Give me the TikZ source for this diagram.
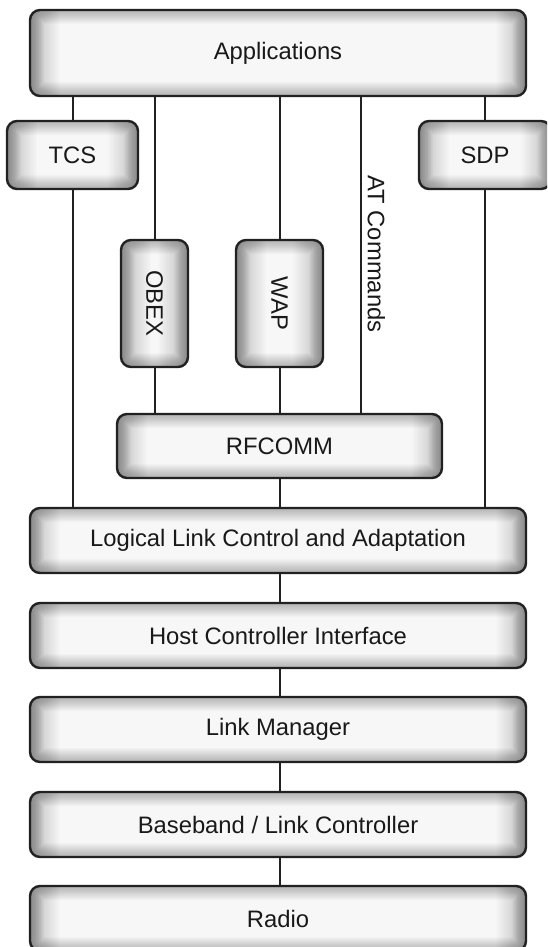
\documentclass[tikz,border=0pt]{standalone}
\usepackage{fontspec}
\setmainfont{Liberation Sans}
\usetikzlibrary{backgrounds}
\newcommand\boxfont{\fontsize{23.8pt}{28pt}\selectfont}
\tikzset{
  % soft grey inner glow along the edges of each box
  glow/.style={path picture={
    \foreach \w in {2,4,...,28}
      \draw[black, draw opacity=0.02, line width=\w pt]
        (path picture bounding box.south west) rectangle (path picture bounding box.north east);
    \foreach \w in {3,6,...,60}{
      \draw[black, draw opacity=0.012, line width=\w pt]
        (path picture bounding box.south west) -- (path picture bounding box.north west);
      \draw[black, draw opacity=0.012, line width=\w pt]
        (path picture bounding box.south east) -- (path picture bounding box.north east);}
  }},
  layer/.style={glow, draw=black!87, line width=2.4pt, fill=black!3, rounded corners=10pt,
    inner sep=0pt, font=\boxfont, text=black!90},
  link/.style={draw=black!87, line width=2pt}
}
\begin{document}
\begin{tikzpicture}[x=1pt, y=-1pt]
\clip (0,0) rectangle (547,947);

% protocol boxes
\node[layer, minimum width=496pt, minimum height=86pt] (app) at (278,53) {Applications};
\node[layer, minimum width=131pt, minimum height=68pt] (tcs) at (72.5,155) {TCS};
\node[layer, minimum width=132pt, minimum height=68pt] (sdp) at (485,155) {SDP};
\node[layer, minimum width=67pt, minimum height=127pt] (obex) at (154.5,303.5) {\rotatebox{-90}{OBEX}};
\node[layer, minimum width=87pt, minimum height=127pt] (wap) at (279.5,303.5) {\rotatebox{-90}{WAP}};
\node[layer, minimum width=325pt, minimum height=64pt] (rfcomm) at (279.5,446) {RFCOMM};
\node[layer, minimum width=496pt, minimum height=65pt] (l2cap) at (278,540.5) {Logical Link Control and Adaptation};
\node[layer, minimum width=496pt, minimum height=65pt] (hci) at (278,635.5) {Host Controller Interface};
\node[layer, minimum width=496pt, minimum height=65pt] (lm) at (278,729.5) {Link Manager};
\node[layer, minimum width=496pt, minimum height=65pt] (bb) at (278,824.5) {Baseband / Link Controller};
\node[layer, minimum width=496pt, minimum height=65pt] (radio) at (278,918.5) {Radio};

\node[rotate=-90, font=\boxfont, text=black!90, inner sep=0pt] (atc) at (376.5,254) {AT Commands};
\coordinate (atx) at (361,0);

% connecting lines
\begin{scope}[on background layer]
  \draw[link] (app.south -| tcs.north) -- (tcs.north);
  \draw[link] (tcs.south) -- (tcs.south |- l2cap.north);
  \draw[link] (app.south -| obex.north) -- (obex.north);
  \draw[link] (obex.south) -- (obex.south |- rfcomm.north);
  \draw[link] (app.south -| wap.north) -- (wap.north);
  \draw[link] (wap.south) -- (wap.south |- rfcomm.north);
  \draw[link] (app.south -| atx) -- (rfcomm.north -| atx);
  \draw[link] (rfcomm.south) -- (rfcomm.south |- l2cap.north);
  \draw[link] (app.south -| sdp.north) -- (sdp.north);
  \draw[link] (sdp.south) -- (sdp.south |- l2cap.north);
  \draw[link] (l2cap.south -| rfcomm.south) -- (hci.north -| rfcomm.south);
  \draw[link] (hci.south -| rfcomm.south) -- (lm.north -| rfcomm.south);
  \draw[link] (lm.south -| rfcomm.south) -- (bb.north -| rfcomm.south);
  \draw[link] (bb.south -| rfcomm.south) -- (radio.north -| rfcomm.south);
\end{scope}
\end{tikzpicture}
\end{document}
